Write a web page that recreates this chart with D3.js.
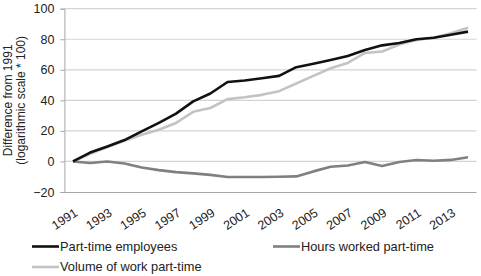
<!DOCTYPE html>
<html>
<head>
<meta charset="utf-8">
<script src="https://cdn.jsdelivr.net/npm/d3@7"></script>
<style>
  body { margin: 0; background: #fff; }
  svg { display: block; font-family: "Liberation Sans", Arial, sans-serif; }
</style>
</head>
<body>
<div id="container"></div>
<script>
// chart data
let years = [1991,1992,1993,1994,1995,1996,1997,1998,1999,2000,2001,2002,
             2003,2004,2005,2006,2007,2008,2009,2010,2011,2012,2013,2014];
let partTimeEmployees = [0,5.8,9.8,14,19.7,25.2,31.3,39.3,44.5,52,53,54.5,
                         56,61.7,64,66.4,69,73,76,77.5,80,81,83,85];
let volumeOfWork = [0,5,9.5,13.5,17.5,20.8,25.2,32.5,35,40.8,42,43.6,
                    46,51,56,61,64.5,71,72,76.5,79.5,81,84,87.5];
let hoursWorked = [0,-1,0,-1.3,-4,-5.7,-7,-7.8,-8.8,-10.2,-10.2,-10.2,
                   -10,-9.8,-6.5,-3.5,-2.6,-0.4,-3,-0.4,0.9,0.5,1,2.8];
let yTicks = [-20,0,20,40,60,80,100];
let seriesNames = ["Part-time employees","Hours worked part-time","Volume of work part-time"];

let w = 481;
let h = 276;
let plotLeft = 64.4, plotRight = 476.6, plotTop = 8.7, plotBottom = 192;

let viz = d3.select("#container")
  .append("svg")
    .attr("width", w)
    .attr("height", h)
;

let xScale = d3.scalePoint()
    .domain(years)
    .range([plotLeft, plotRight])
    .padding(0.5)
;
let yScale = d3.scaleLinear().domain([-20, 100]).range([plotBottom, plotTop]);

// gridlines
viz.append("g").selectAll("line")
  .data(yTicks.filter(d => d != -20))
  .enter()
  .append("line")
    .attr("x1", plotLeft)
    .attr("x2", plotRight)
    .attr("y1", d => yScale(d))
    .attr("y2", d => yScale(d))
    .attr("stroke", "#d4d4d4")
    .attr("stroke-width", 1.2)
;

// y axis
let yAxis = d3.axisLeft(yScale).tickValues(yTicks).tickSize(4).tickPadding(6);
let yAxisGroup = viz.append("g").attr("transform", "translate(" + plotLeft + ",0)").call(yAxis);
yAxisGroup.select(".domain").attr("stroke", "#a6a6a6");
yAxisGroup.selectAll("line").attr("stroke", "#a6a6a6");
yAxisGroup.selectAll("text").attr("font-size", 12.5).attr("fill", "#222")
  .attr("font-family", "Liberation Sans, Arial, sans-serif");

// x axis
let xAxis = d3.axisBottom(xScale)
  .tickValues(years.filter(d => d % 2 == 1))
  .tickSize(0)
  .tickSizeOuter(0);
let xAxisGroup = viz.append("g").attr("transform", "translate(0," + plotBottom + ")").call(xAxis);
xAxisGroup.select(".domain").attr("d", "M" + plotLeft + ",0.5H" + plotRight).attr("stroke", "#a6a6a6");
xAxisGroup.selectAll("text")
  .attr("font-size", 12.5)
  .attr("fill", "#222")
  .attr("font-family", "Liberation Sans, Arial, sans-serif")
  .attr("text-anchor", "end")
  .attr("dy", 0)
  .attr("y", 0)
  .attr("transform", "translate(5,23) rotate(-33)")
;

// y label
let yLabel = viz.append("text")
  .attr("transform", "translate(12," + ((plotTop + plotBottom) / 2) + ") rotate(-90)")
  .attr("text-anchor", "middle")
  .attr("font-size", 12)
  .attr("fill", "#222");
yLabel.append("tspan").attr("x", 0).attr("y", 0).text("Difference from 1991");
yLabel.append("tspan").attr("x", 0).attr("y", 12.5).text("(logarithmic scale * 100)");

// lines
let series = [
  {name: seriesNames[0], values: partTimeEmployees, color: "#111111"},
  {name: seriesNames[1], values: hoursWorked, color: "#808080"},
  {name: seriesNames[2], values: volumeOfWork, color: "#c3c3c3"}
];
let line = d3.line()
  .x((d, i) => xScale(years[i]))
  .y(d => yScale(d));

let graphGroup = viz.append("g").classed("graphGroup", true);
graphGroup.selectAll("path")
  .data([series[2], series[1], series[0]])
  .enter()
  .append("path")
    .attr("d", d => line(d.values))
    .attr("fill", "none")
    .attr("stroke", d => d.color)
    .attr("stroke-width", 2.6)
    .attr("stroke-linejoin", "round")
;

// legend
let legendPos = [[32, 246.5], [273, 246.5], [32, 267]];
let legend = viz.append("g").selectAll("g")
  .data(series)
  .enter()
  .append("g")
    .attr("transform", (d, i) => "translate(" + legendPos[i][0] + "," + legendPos[i][1] + ")");
legend.append("line")
  .attr("x1", 0).attr("x2", 27)
  .attr("stroke", d => d.color)
  .attr("stroke-width", 2.6);
legend.append("text")
  .attr("x", 28)
  .attr("dy", "0.35em")
  .attr("font-size", 12.8)
  .attr("fill", "#222")
  .text(d => d.name);
</script>
</body>
</html>
